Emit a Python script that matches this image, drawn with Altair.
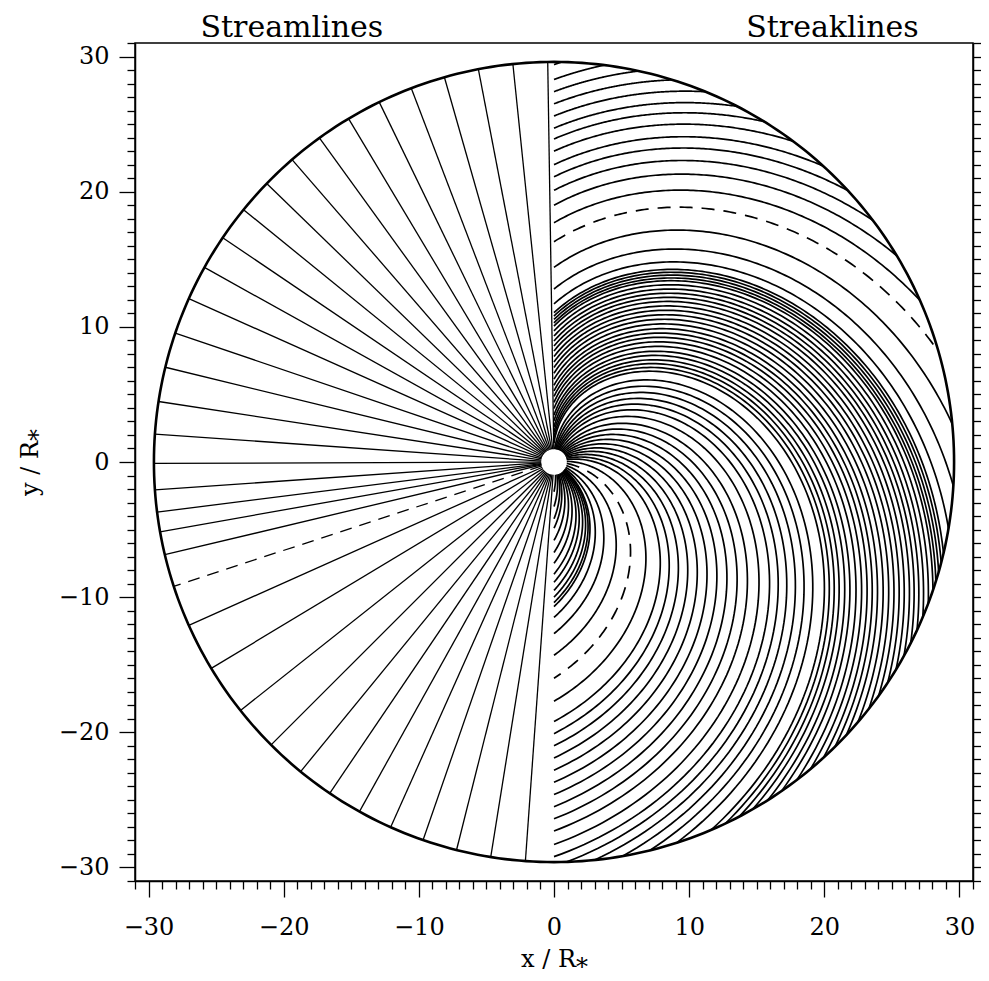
import math
import numpy as np
import pandas as pd
import altair as alt

# ---------------- data ----------------
# Streamlines (left half): direction angles in degrees, counter-clockwise from +x
STREAMLINE_ANGLES = [90.9, 95.9, 100.9, 105.9, 110.9, 115.9, 120.9, 125.9, 130.9,
                     135.9, 140.9, 145.9, 150.9, 155.9, 161.2, 166.3, 171.3, 176.0,
                     180.2, 184.0, 187.2, 190.05, 193.4, 198.1, 204.1, 211.05,
                     218.4, 225.0, 230.7, 235.9, 240.9, 245.9, 250.9, 255.9, 260.9, 265.9]
DASHED_STREAMLINE = 198.1

# Streaklines (right half)
# y where a streakline enters the right half on the upper x = 0 axis
UPPER_STARTS = [29.4, 28.3, 27.4, 26.5, 25.6, 24.7, 23.9, 23.0, 22.0, 21.1, 20.1, 19.0,
                17.7, 16.3, 14.4, 12.8, 11.7, 11.05, 10.8, 10.55, 10.3, 10.06, 9.7,
                9.32, 8.95, 8.58, 8.21, 7.80, 7.40, 6.99, 6.57, 6.13, 5.68, 5.26, 4.85,
                4.41, 3.96, 3.47, 3.05, 2.6, 2.2, 1.8, 1.4]
DASHED_UPPER = 16.3
# |y| where a streakline leaves the right half on the lower x = 0 axis
LOWER_ENDS = [29.2, 28.3, 27.3, 26.4, 25.5, 24.6, 23.7, 22.8, 21.9, 21.0, 20.1, 19.2,
              17.7, 16.0, 14.3, 12.7, 11.5, 10.7, 10.4, 10.0, 9.5, 8.9, 8.3, 7.5, 6.7,
              5.8, 4.9, 4.2, 3.3, 2.2]
DASHED_LOWER = 16.0
# launch directions (deg) of streaklines that go from the star straight to the rim
CENTER_PHASES = [76.5, 80.5, 84.5, 88.5, 92.5]

PITCH = 10.3      # radial growth of the streaklines per radian
R_OUT = 29.6      # radius of the outer circle
R_STAR = 0.95     # radius of the star

X_MINOR = list(range(-31, 32))
MAJOR_STEP = 10
PANEL_TITLES = ["Streamlines", "Streaklines"]
PANEL_TITLE_X = [-19.4, 20.6]

FONT = "DejaVu Serif"
W = 838

# ---------------- build tables ----------------
stream_rows = []
for i, ang in enumerate(STREAMLINE_ANGLES):
    t = math.radians(ang)
    style = "dashed" if ang == DASHED_STREAMLINE else "solid"
    for j, r in enumerate([R_STAR, R_OUT]):
        stream_rows.append({"id": i, "o": j, "x": r * math.cos(t), "y": r * math.sin(t), "style": style})
stream_df = pd.DataFrame(stream_rows)


def spiral(phi0, sid, style, rows):
    a = min(phi0 - R_STAR / PITCH, math.pi / 2)
    b = max(phi0 - R_OUT / PITCH, -math.pi / 2)
    if a <= b:
        return
    phis = np.linspace(a, b, 140)
    r = PITCH * (phi0 - phis)
    for j, (rr, pp) in enumerate(zip(r, phis)):
        rows.append({"id": sid, "o": j, "x": rr * math.cos(pp), "y": rr * math.sin(pp), "style": style})


streak_rows = []
sid = 0
for yv in UPPER_STARTS:
    spiral(math.pi / 2 + yv / PITCH, sid, "dashed" if yv == DASHED_UPPER else "solid", streak_rows)
    sid += 1
for yv in LOWER_ENDS:
    spiral(-math.pi / 2 + yv / PITCH, sid, "dashed" if yv == DASHED_LOWER else "solid", streak_rows)
    sid += 1
for ph in CENTER_PHASES:
    spiral(math.radians(ph), sid, "solid", streak_rows)
    sid += 1
streak_df = pd.DataFrame(streak_rows)

circ_t = np.linspace(0, 2 * math.pi, 361)
rim_df = pd.DataFrame({"o": np.arange(len(circ_t)), "x": R_OUT * np.cos(circ_t), "y": R_OUT * np.sin(circ_t)})
star_df = pd.DataFrame({"x": [0.0], "y": [0.0]})
title_df = pd.DataFrame({"label": PANEL_TITLES, "x": PANEL_TITLE_X})

# ---------------- scales / axes ----------------
sc = alt.Scale(domain=[-31, 31], nice=False, zero=False)
is_major = f"datum.value % {MAJOR_STEP} === 0"
tick_size = {"condition": {"test": is_major, "value": 16}, "value": 8}

x_axis = alt.Axis(values=X_MINOR, labelExpr=f"{is_major} ? datum.label : ''",
                  tickSize=tick_size, title="x / R⁎", labelPadding=18, orient="bottom",
                  titleX=W / 2, titleY=78, titleBaseline="middle", titleAlign="center")
y_axis = alt.Axis(values=X_MINOR, labelExpr=f"{is_major} ? datum.label : ''",
                  tickSize=tick_size, title="y / R⁎", labelPadding=10, orient="left",
                  titleX=-105, titleY=W / 2, titleAngle=-90, titleBaseline="middle",
                  titleAlign="center")
y_axis_right = alt.Axis(values=X_MINOR, orient="right", labels=False, title=None,
                        tickSize={"condition": {"test": is_major, "value": 12}, "value": 8})

X = alt.X("x:Q", scale=sc, axis=x_axis)
Y = lambda ax: alt.Y("y:Q", scale=sc, axis=ax)

stream_solid = alt.Chart(stream_df).transform_filter("datum.style == 'solid'").mark_line(
    color="black", strokeWidth=1.3).encode(x=X, y=Y(y_axis), detail="id:N", order="o:Q")
stream_dash = alt.Chart(stream_df).transform_filter("datum.style == 'dashed'").mark_line(
    color="black", strokeWidth=1.3, strokeDash=[12, 8]).encode(x=X, y=Y(None), detail="id:N", order="o:Q")
streak_solid = alt.Chart(streak_df).transform_filter("datum.style == 'solid'").mark_line(
    color="black", strokeWidth=1.7).encode(x=X, y=Y(None), detail="id:N", order="o:Q")
streak_dash = alt.Chart(streak_df).transform_filter("datum.style == 'dashed'").mark_line(
    color="black", strokeWidth=1.7, strokeDash=[13, 9]).encode(x=X, y=Y(None), detail="id:N", order="o:Q")
rim = alt.Chart(rim_df).mark_line(color="black", strokeWidth=2.6).encode(
    x=X, y=Y(y_axis_right), order="o:Q")
star = alt.Chart(star_df).mark_point(shape="circle", filled=True, color="white", opacity=1,
                                     size=480).encode(x=X, y=Y(None))
titles = alt.Chart(title_df).mark_text(font=FONT, fontSize=30, color="black",
                                       baseline="alphabetic", align="center").encode(
    x=X, y=alt.value(-6), text="label:N")

chart = alt.layer(stream_solid, stream_dash, streak_solid, streak_dash, rim, star, titles).resolve_axis(
    y="independent"
).properties(
    width=W, height=W,
    autosize=alt.AutoSizeParams(type="none"),
    padding={"left": 127, "top": 35, "right": 8, "bottom": 91},
).configure_view(stroke="black", strokeWidth=1.5).configure_axis(
    grid=False, domainColor="black", domainWidth=1.5, tickColor="black", tickWidth=1.3,
    labelFont=FONT, labelFontSize=24, labelColor="black", labelOverlap=False, labelFlush=False,
    titleFont=FONT, titleFontSize=24, titleFontWeight="normal", titleColor="black"
)

chart.save("out.html", embed_options={"renderer": "svg", "actions": False})
